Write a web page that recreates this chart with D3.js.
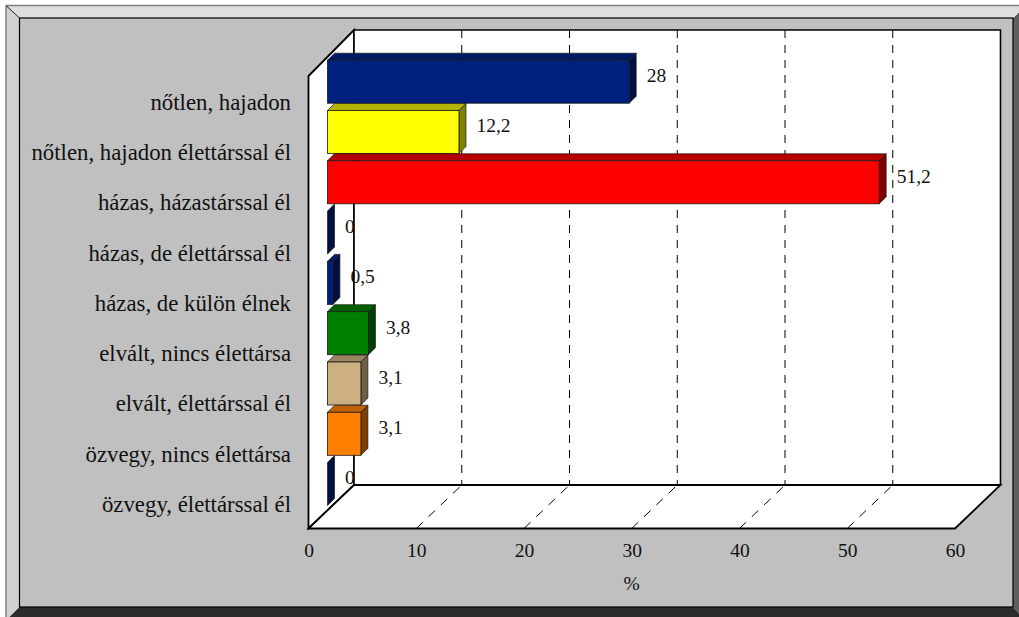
<!DOCTYPE html>
<html><head><meta charset="utf-8">
<script src="https://cdn.jsdelivr.net/npm/d3@7"></script>
<style>
html,body{margin:0;padding:0;background:#fff;overflow:hidden}
svg{display:block}
text{font-family:"Liberation Serif","Times New Roman",serif;fill:#111}
</style></head><body><svg id="c" width="1019" height="617"></svg>
<script>
const categories=["nőtlen, hajadon","nőtlen, hajadon élettárssal él","házas, házastárssal él","házas, de élettárssal él","házas, de külön élnek","elvált, nincs élettársa","elvált, élettárssal él","özvegy, nincs élettársa","özvegy, élettárssal él"];
const values=[28,12.2,51.2,0,0.5,3.8,3.1,3.1,0];
const valueLabels=["28","12,2","51,2","0","0,5","3,8","3,1","3,1","0"];
const frontColors=["#00207f","#ffff00","#ff0000","#00207f","#00207f","#008000","#cdb081","#ff8000","#00207f"];
const topColors=["#001a66","#b3b300","#b30000","#001a66","#001a66","#006000","#9a8560","#c06000","#001a66"];
const sideColors=["#00103f","#808000","#800000","#00103f","#00103f","#004000","#6e5f45","#804000","#00103f"];
const xTicks=[0,10,20,30,40,50,60];

const svg=d3.select("#c");
const W=1019,H=617;
const x=d3.scaleLinear().domain([0,60]).range([308.5,955]);
const y=d3.scaleBand().domain(categories).range([56.55,509.25]).paddingInner(0.145).paddingOuter(0.0725);
const wallDX=45.5,wallDY=-43.5,floorY=528.5,wallTop=30,frontTop=76;
const barX0=19,depth=7;

// frame
const fx0=6,fy0=5.5,fx1=1013,fy1=607,ix0=19.5,iy0=18,ox1=1025.5,oy1=620.5;
const poly=(pts,fill,stroke,sw)=>svg.append("polygon").attr("points",pts.map(p=>p.join(",")).join(" ")).attr("fill",fill).attr("stroke",stroke||"none").attr("stroke-width",sw||0);
poly([[fx0,fy0],[ox1,fy0],[fx1,iy0],[ix0,iy0]],"#dedede");
poly([[fx0,fy0],[ix0,iy0],[ix0,fy1],[fx0,oy1]],"#d0d0d0");
poly([[fx1,iy0],[ox1,fy0],[ox1,oy1],[fx1,fy1]],"#5f5f5f");
poly([[ix0,fy1],[fx1,fy1],[ox1,oy1],[fx0,oy1]],"#2b2b2b");
svg.append("line").attr("x1",fx0).attr("x2",W).attr("y1",fy0).attr("y2",fy0).attr("stroke","#808080").attr("stroke-width",1.5);
svg.append("line").attr("x1",fx0).attr("x2",fx0).attr("y1",fy0).attr("y2",H).attr("stroke","#808080").attr("stroke-width",1.5);
svg.append("line").attr("x1",fx0).attr("y1",fy0).attr("x2",ix0).attr("y2",iy0).attr("stroke","#222").attr("stroke-width",1);
svg.append("line").attr("x1",fx1).attr("y1",iy0).attr("x2",W).attr("y2",iy0-6).attr("stroke","#ddd").attr("stroke-width",1);
svg.append("rect").attr("x",ix0).attr("y",iy0).attr("width",fx1-ix0).attr("height",fy1-iy0).attr("fill","#c0c0c0").attr("stroke","#000").attr("stroke-width",1.2);

// plot walls
const x0=x(0),x1=x(60),backY=floorY+wallDY;
poly([[x0,frontTop],[x0+wallDX,wallTop],[x0+wallDX,backY],[x0,floorY]],"#fff","#000",1.8);
poly([[x0+wallDX,wallTop],[x1+wallDX,wallTop],[x1+wallDX,backY],[x0+wallDX,backY]],"#fff","#000",1.6);
poly([[x0,floorY],[x0+wallDX,backY],[x1+wallDX,backY],[x1,floorY]],"#fff","#000",1.8);

// gridlines
const gridT=xTicks.slice(1,-1);
svg.append("g").selectAll("line").data(gridT).join("line")
 .attr("x1",d=>x(d)+wallDX).attr("x2",d=>x(d)+wallDX).attr("y1",wallTop).attr("y2",backY)
 .attr("stroke","#000").attr("stroke-width",1).attr("stroke-dasharray","8,7");
svg.append("g").selectAll("line").data(gridT).join("line")
 .attr("x1",d=>x(d)).attr("x2",d=>x(d)+wallDX).attr("y1",floorY).attr("y2",backY)
 .attr("stroke","#000").attr("stroke-width",1).attr("stroke-dasharray","9,8");

// bars
const bars=svg.append("g").selectAll("g").data(categories).join("g");
const bx=x0+barX0;
const bw=i=>x(values[i])-x0;
bars.each(function(c,i){
 const g=d3.select(this),t=y(c),h=y.bandwidth(),w=bw(i),sc="#1a1a1a";
 const pts=a=>a.map(p=>p.join(",")).join(" ");
 g.append("polygon").attr("points",pts([[bx+w,t],[bx+w+depth,t-depth],[bx+w+depth,t+h-depth],[bx+w,t+h]])).attr("fill",sideColors[i]).attr("stroke",sc).attr("stroke-width",.7);
 if(w>0){
  g.append("polygon").attr("points",pts([[bx,t],[bx+depth,t-depth],[bx+w+depth,t-depth],[bx+w,t]])).attr("fill",topColors[i]).attr("stroke",sc).attr("stroke-width",.7);
  g.append("rect").attr("x",bx).attr("y",t).attr("width",w).attr("height",h).attr("fill",frontColors[i]).attr("stroke",sc).attr("stroke-width",.8);
 }
});
// value labels
svg.append("g").selectAll("text").data(categories).join("text")
 .attr("x",(c,i)=>bx+bw(i)+17.5).attr("y",c=>y(c)+y.bandwidth()/2-6.5).attr("dy","0.35em")
 .attr("font-size",19.5).text((c,i)=>valueLabels[i]);

// category labels
svg.append("g").selectAll("text").data(categories).join("text")
 .attr("x",291).attr("y",c=>y(c)+y.bandwidth()/2+20).attr("dy","0.35em").attr("text-anchor","end")
 .attr("font-size",22.8).text(c=>c);

// x axis
const ax=svg.append("g").attr("transform",`translate(0,${floorY})`).call(d3.axisBottom(x).tickValues(xTicks).tickSize(0).tickPadding(0).tickFormat(d3.format("d")));
ax.select(".domain").remove();
ax.selectAll("text").attr("font-size",19.5).attr("y",21.5).attr("dy","0.35em");
ax.attr("font-family",null);
svg.append("text").attr("x",631.5).attr("y",583).attr("dy","0.35em").attr("text-anchor","middle").attr("font-size",19.5).text("%");
</script></body></html>
